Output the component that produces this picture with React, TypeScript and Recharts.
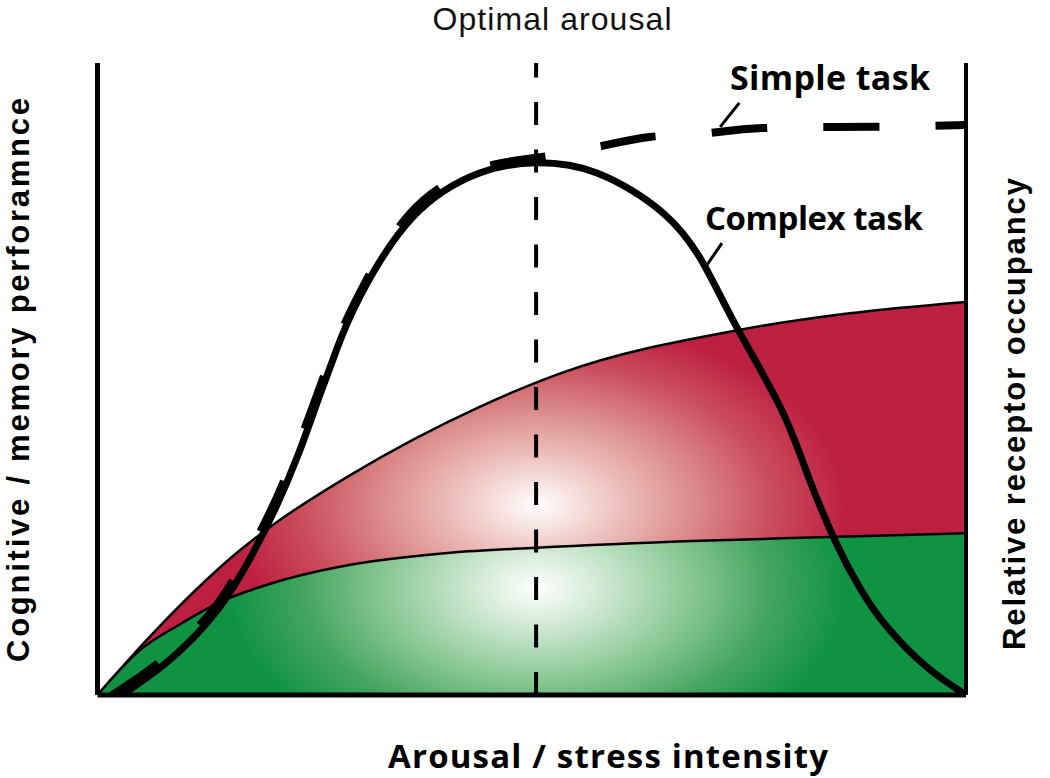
import React from 'react';
import { ComposedChart, Area, Line, XAxis, YAxis, ReferenceLine } from 'recharts';

// Arousal (x, 0-100) vs. performance / occupancy (y, 0-100)
const complexTaskX = [2.8, 7.2, 11.2, 14.5, 17.6, 20.5, 23.1, 25.4, 27.6, 30.2, 36.3, 44.0, 50.5, 57.5, 65.1, 69.7, 73.6, 78.6, 81.7, 84.9, 87.8, 90.9, 95.5, 100];
const complexTaskY = [0, 4.3, 9.3, 14.7, 21.7, 29.6, 38.0, 46.7, 54.9, 63.0, 75.6, 82.6, 84.2, 82.6, 76.3, 68.4, 58.2, 45.6, 35.1, 24.5, 16.9, 10.8, 4.4, 0];

const simpleTaskX = [1.7, 6.0, 10.3, 13.8, 17.0, 20.0, 22.6, 25.0, 27.2, 29.9, 36.0, 43.8, 50.5, 57.5, 63.6, 70.2, 76.5, 89.3, 100];
const simpleTaskY = [0, 4.0, 9.0, 14.4, 21.4, 29.3, 37.7, 46.4, 54.6, 62.8, 76.2, 83.2, 85.0, 86.7, 88.3, 88.9, 89.7, 89.9, 90.2];

const grOccupancyX = [0, 6.0, 16.4, 20.7, 29.1, 44.0, 53.3, 74.0, 86.6, 100];
const grOccupancyY = [0, 9.2, 22.9, 27.4, 34.8, 45.6, 50.9, 57.8, 60.4, 62.2];

const mrOccupancyX = [0, 4.9, 9.5, 14.1, 19.9, 29.1, 40.6, 50.6, 69.4, 84.3, 100];
const mrOccupancyY = [0, 7.1, 11.2, 14.7, 17.6, 20.6, 22.5, 23.3, 24.4, 25.0, 25.6];

const optimalArousalX = 50.5;
const simplePointer = [{ x: 73.9, y: 93.7 }, { x: 71.7, y: 89.9 }];
const complexPointer = [{ x: 71.9, y: 71.5 }, { x: 69.95, y: 67.6 }];

const labels = {
  optimal: 'Optimal arousal',
  simple: 'Simple task',
  complex: 'Complex task',
  gr: 'GR occupancy',
  mr: 'MR occupancy',
  xTitle: 'Arousal / stress intensity',
  yLeft: 'Cognitive / memory perforamnce',
  yRight: 'Relative receptor occupancy',
};

const toPoints = (xs: number[], ys: number[]) => xs.map((x, i) => ({ x, y: ys[i] }));

const complexData = toPoints(complexTaskX, complexTaskY);
const simpleData = toPoints(simpleTaskX, simpleTaskY);
const grData = toPoints(grOccupancyX, grOccupancyY);
const mrData = toPoints(mrOccupancyX, mrOccupancyY);

const FONT = "'Open Sans', 'DejaVu Sans', sans-serif";
const EDGE_FONT = "'Liberation Sans', Arial, sans-serif";

export default function App() {
  return (
    <div style={{ position: 'absolute', left: 0, top: 0, width: 1050, height: 778, background: '#fff' }}>
      <ComposedChart width={1050} height={778} margin={{ top: 63, right: 84, bottom: 83, left: 97.5 }}>
        <defs>
          <radialGradient id="grFill" gradientUnits="userSpaceOnUse" cx={537} cy={505} r={310}
            gradientTransform="translate(537 505) scale(1 0.6) translate(-537 -505)">
            <stop offset="0" stopColor="#ffffff" />
            <stop offset="0.25" stopColor="#eec4c0" />
            <stop offset="0.5" stopColor="#dc8d8b" />
            <stop offset="0.75" stopColor="#cb4f5d" />
            <stop offset="1" stopColor="#bd1f40" />
          </radialGradient>
          <radialGradient id="mrFill" gradientUnits="userSpaceOnUse" cx={537} cy={588} r={310}
            gradientTransform="translate(537 588) scale(1 0.6) translate(-537 -588)">
            <stop offset="0" stopColor="#ffffff" />
            <stop offset="0.25" stopColor="#c6e4ca" />
            <stop offset="0.5" stopColor="#88c792" />
            <stop offset="0.75" stopColor="#45a560" />
            <stop offset="1" stopColor="#0f9242" />
          </radialGradient>
        </defs>
        <XAxis type="number" dataKey="x" domain={[0, 100]} hide allowDataOverflow />
        <YAxis type="number" domain={[0, 100]} hide allowDataOverflow />

        <Area data={grData} dataKey="y" type="monotone" baseValue={0} fill="url(#grFill)" fillOpacity={1}
          stroke="#000" strokeWidth={2.5} dot={false} activeDot={false} isAnimationActive={false} />
        <Area data={mrData} dataKey="y" type="monotone" baseValue={0} fill="url(#mrFill)" fillOpacity={1}
          stroke="#000" strokeWidth={2.5} dot={false} activeDot={false} isAnimationActive={false} />

        <ReferenceLine x={optimalArousalX} stroke="#000" strokeWidth={4} strokeDasharray="23 24.5" />

        <Line data={simpleData} dataKey="y" type="natural" stroke="#000" strokeWidth={8} strokeDasharray="56 56"
          dot={false} activeDot={false} isAnimationActive={false} />
        <Line data={complexData} dataKey="y" type="natural" stroke="#000" strokeWidth={7}
          dot={false} activeDot={false} isAnimationActive={false} />

        <ReferenceLine segment={simplePointer} stroke="#000" strokeWidth={3} ifOverflow="visible" />
        <ReferenceLine segment={complexPointer} stroke="#000" strokeWidth={3} ifOverflow="visible" />

        <ReferenceLine x={0} stroke="#000" strokeWidth={5} />
        <ReferenceLine x={100} stroke="#000" strokeWidth={4} />
        <ReferenceLine y={0} stroke="#000" strokeWidth={5} />

        <text x={552} y={30} textAnchor="middle" fontFamily={EDGE_FONT} fontSize={32} fill="#111"
          textLength={239} lengthAdjust="spacing">{labels.optimal}</text>
        <text x={730} y={90} textAnchor="start" fontFamily={FONT} fontSize={34} fontWeight={700} fill="#000"
          textLength={200} lengthAdjust="spacing">{labels.simple}</text>
        <text x={705} y={230} textAnchor="start" fontFamily={FONT} fontSize={33} fontWeight={700} fill="#000"
          textLength={218} lengthAdjust="spacing">{labels.complex}</text>
        <text x={536} y={487} textAnchor="middle" fontFamily={FONT} fontSize={32} fontWeight={700} fill="#4a1219"
          textLength={228} lengthAdjust="spacing">{labels.gr}</text>
        <text x={536} y={623} textAnchor="middle" fontFamily={FONT} fontSize={32} fontWeight={700} fill="#0d3d20"
          textLength={232} lengthAdjust="spacing">{labels.mr}</text>
        <text x={608} y={768} textAnchor="middle" fontFamily={FONT} fontSize={33} fontWeight={700} fill="#000"
          textLength={440} lengthAdjust="spacing">{labels.xTitle}</text>
        <text transform="translate(28.5 380) rotate(-90)" textAnchor="middle" fontFamily={EDGE_FONT} fontSize={31} fontWeight={700} fill="#000"
          textLength={564} lengthAdjust="spacing">{labels.yLeft}</text>
        <text transform="translate(1025 414) rotate(-90)" textAnchor="middle" fontFamily={EDGE_FONT} fontSize={31} fontWeight={700} fill="#000"
          textLength={472} lengthAdjust="spacing">{labels.yRight}</text>
      </ComposedChart>
    </div>
  );
}
